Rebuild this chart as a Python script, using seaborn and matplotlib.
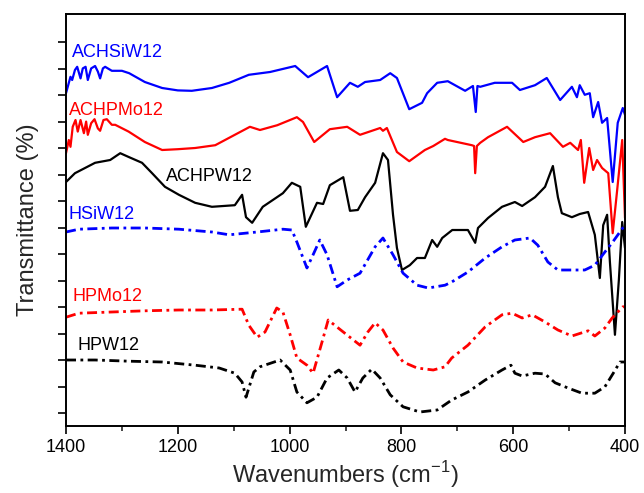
import numpy as np
import pandas as pd
import seaborn as sns
import matplotlib
matplotlib.use("Agg")
import matplotlib.pyplot as plt

# FTIR spectra (wavenumber in cm^-1, offset transmittance in arbitrary units)
achsiw_wn = [1400, 1392, 1389, 1384, 1380, 1374, 1370, 1365, 1361, 1355, 1348, 1343, 1339, 1334,
             1330, 1318, 1300, 1287, 1259, 1228, 1200, 1175, 1139, 1108, 1073, 1035, 990, 967, 933,
             915, 892, 878, 865, 838, 820, 808, 786, 763, 754, 736, 717, 686, 672, 667, 664, 659,
             633, 602, 588, 561, 540, 516, 495, 486, 481, 472, 463, 457, 448, 441, 432, 422, 413,
             404, 400]
achsiw_t = [83.2, 87.3, 86.5, 89.0, 89.8, 86.9, 89.4, 89.8, 86.5, 89.4, 90.0, 88.6, 86.9, 89.4,
            89.8, 88.8, 88.8, 88.2, 86.0, 84.5, 83.9, 83.8, 84.5, 85.8, 87.8, 88.5, 90.0, 87.2, 90.0,
            82.2, 85.8, 84.8, 86.0, 86.5, 88.2, 87.0, 79.2, 80.8, 83.2, 85.8, 86.2, 83.8, 85.0, 78.5,
            85.0, 84.8, 85.8, 85.8, 84.0, 85.2, 87.0, 81.5, 84.8, 82.2, 85.2, 82.8, 83.2, 77.2, 81.0,
            75.8, 77.0, 61.0, 75.8, 79.5, 77.8]

achpmo_wn = [1400, 1395, 1392, 1388, 1383, 1379, 1374, 1368, 1364, 1361, 1355, 1349, 1343, 1339,
             1333, 1327, 1318, 1312, 1288, 1259, 1228, 1200, 1169, 1133, 1098, 1071, 1053, 1022, 987,
             976, 956, 928, 897, 874, 838, 833, 826, 808, 786, 776, 758, 743, 722, 717, 674, 670,
             668, 665, 659, 645, 611, 582, 561, 534, 511, 498, 484, 479, 473, 464, 457, 450, 441,
             430, 422, 414, 405, 400]
achpmo_t = [68.2, 71.5, 69.8, 74.8, 76.5, 73.6, 76.5, 73.2, 76.1, 72.8, 75.7, 76.7, 74.4, 73.8,
            76.5, 76.7, 75.3, 75.3, 73.6, 71.0, 69.0, 69.2, 69.5, 70.2, 72.8, 74.8, 74.0, 75.2, 77.2,
            76.0, 71.0, 74.2, 74.8, 72.8, 74.5, 73.8, 74.5, 68.5, 66.2, 67.2, 69.0, 70.0, 71.8, 71.5,
            70.2, 70.0, 63.2, 70.0, 70.8, 72.2, 74.8, 71.0, 72.2, 73.2, 69.8, 70.8, 69.0, 71.5, 60.8,
            69.5, 64.0, 66.5, 64.5, 63.2, 48.2, 59.0, 71.5, 52.0]

achpw_wn = [1400, 1384, 1348, 1321, 1303, 1287, 1264, 1246, 1223, 1198, 1169, 1139, 1098, 1085,
            1078, 1067, 1048, 1012, 996, 981, 971, 951, 940, 928, 904, 892, 878, 865, 847, 833,
            824, 815, 808, 799, 785, 772, 758, 745, 736, 727, 709, 681, 668, 663, 645, 620, 597,
            584, 561, 543, 529, 520, 513, 495, 481, 466, 454, 445, 439, 432, 427, 418, 411, 405, 400]
achpw_t = [61.0, 63.2, 65.8, 66.5, 68.2, 67.2, 65.8, 63.2, 59.8, 57.8, 55.8, 54.8, 55.2, 57.8,
           52.2, 50.8, 54.8, 58.2, 60.8, 59.8, 49.8, 55.8, 55.5, 60.2, 62.2, 53.8, 54.0, 57.2, 60.8,
           68.2, 66.5, 52.8, 44.5, 39.0, 40.2, 42.0, 42.0, 46.5, 44.8, 47.0, 49.0, 49.0, 45.8, 49.5,
           52.0, 54.8, 56.0, 55.0, 57.2, 59.8, 65.0, 57.2, 53.2, 52.2, 53.0, 53.5, 47.8, 37.0, 50.2,
           52.8, 41.0, 22.8, 36.5, 51.0, 44.5]

hsiw_wn = [1400, 1377, 1318, 1259, 1198, 1139, 1108, 1058, 1012, 996, 987, 969, 958, 946, 933,
           915, 897, 874, 847, 833, 815, 797, 772, 752, 722, 710, 681, 650, 620, 597, 570, 556,
           538, 520, 495, 472, 454, 436, 423, 404, 400]
hsiw_t = [48.5, 49.2, 49.5, 49.5, 49.2, 48.5, 47.8, 48.5, 49.2, 49.0, 46.0, 39.5, 42.8, 46.5, 42.8,
          34.8, 36.5, 38.2, 44.8, 47.0, 42.8, 38.2, 35.2, 34.5, 35.2, 36.0, 38.5, 42.0, 44.8, 46.5,
          47.0, 45.2, 41.0, 39.0, 39.0, 39.0, 40.2, 43.5, 45.8, 49.5, 50.2]

hpmo_wn = [1400, 1377, 1318, 1259, 1198, 1139, 1085, 1073, 1058, 1044, 1023, 1012, 999, 987, 969,
           958, 942, 931, 904, 874, 860, 847, 833, 815, 797, 772, 743, 722, 710, 681, 650, 620,
           602, 584, 566, 543, 520, 495, 466, 454, 436, 423, 404, 400]
hpmo_t = [27.2, 28.2, 28.5, 28.8, 29.0, 29.0, 29.2, 25.2, 22.2, 23.5, 29.5, 28.5, 22.8, 17.0, 15.2,
          13.2, 21.0, 26.5, 23.5, 20.2, 23.5, 25.8, 24.0, 19.5, 16.0, 14.5, 14.0, 14.8, 17.0, 20.2,
          24.8, 27.8, 28.2, 27.0, 27.8, 26.0, 24.0, 22.5, 23.8, 22.5, 24.5, 27.0, 29.8, 29.8]

hpw_wn = [1400, 1348, 1287, 1228, 1169, 1126, 1098, 1085, 1078, 1064, 1053, 1017, 999, 987, 969,
          951, 933, 912, 897, 883, 869, 853, 838, 820, 797, 767, 736, 710, 681, 650, 620, 604,
          597, 584, 561, 543, 525, 502, 477, 454, 436, 421, 409, 400]
hpw_t = [16.5, 16.5, 16.2, 16.0, 15.2, 14.5, 13.2, 11.0, 7.2, 13.5, 14.8, 16.5, 14.0, 8.5, 5.8,
         7.2, 12.0, 14.0, 12.0, 8.5, 12.0, 14.2, 12.0, 7.8, 4.8, 3.5, 4.0, 6.5, 8.5, 11.5, 14.0,
         15.2, 13.2, 12.5, 13.2, 13.0, 10.8, 9.5, 8.2, 8.2, 9.8, 13.2, 16.0, 16.0]

dashdot = (0, (3.6, 1.6, 1.0, 1.6))
series = [
    ("ACHSiW12", achsiw_wn, achsiw_t, "#0000ff", "-", (1389, 93.5)),
    ("ACHPMo12", achpmo_wn, achpmo_t, "#ff0000", "-", (1395, 79.0)),
    ("ACHPW12", achpw_wn, achpw_t, "#000000", "-", (1221, 62.5)),
    ("HSiW12", hsiw_wn, hsiw_t, "#0000ff", dashdot, (1395, 52.8)),
    ("HPMo12", hpmo_wn, hpmo_t, "#ff0000", dashdot, (1389, 32.5)),
    ("HPW12", hpw_wn, hpw_t, "#000000", dashdot, (1380, 20.2)),
]

sns.set_style("ticks")
plt.rcParams["font.family"] = ["Liberation Sans", "DejaVu Sans"]

fig = plt.figure(figsize=(6.44, 4.93), dpi=100)
ax = fig.add_axes([0.1025, 0.1359, 0.868, 0.8357])

for name, wn, t, color, ls, (lx, ly) in series:
    df = pd.DataFrame({"wn": wn, "t": t})
    lw = 1.6 if ls == "-" else 2.0
    sns.lineplot(data=df, x="wn", y="t", ax=ax, color=color, linewidth=lw,
                 linestyle=ls, estimator=None, sort=False)
    ax.text(lx, ly, name, color=color, fontsize=13, ha="left", va="center")

ax.set_xlim(1400, 400)
ax.set_ylim(0, 103)
ax.set_xticks(np.arange(400, 1401, 200))
ax.set_xticks(np.arange(500, 1400, 200), minor=True)
ax.set_yticks(3.25 + 6.625 * np.arange(15))
ax.set_yticklabels([])
ax.tick_params(axis="both", which="major", direction="out", length=6, width=1.2,
               labelsize=13, colors="black")
ax.tick_params(axis="x", which="minor", direction="out", length=3.5, width=1.2)
for sp in ax.spines.values():
    sp.set_visible(True)
    sp.set_linewidth(1.4)
    sp.set_color("black")

ax.set_xlabel(r"Wavenumbers (cm$^{\mathregular{-1}}$)", fontsize=17, labelpad=2)
ax.set_ylabel("Transmittance (%)", fontsize=17, labelpad=10)

fig.savefig("out.png", dpi=100)
